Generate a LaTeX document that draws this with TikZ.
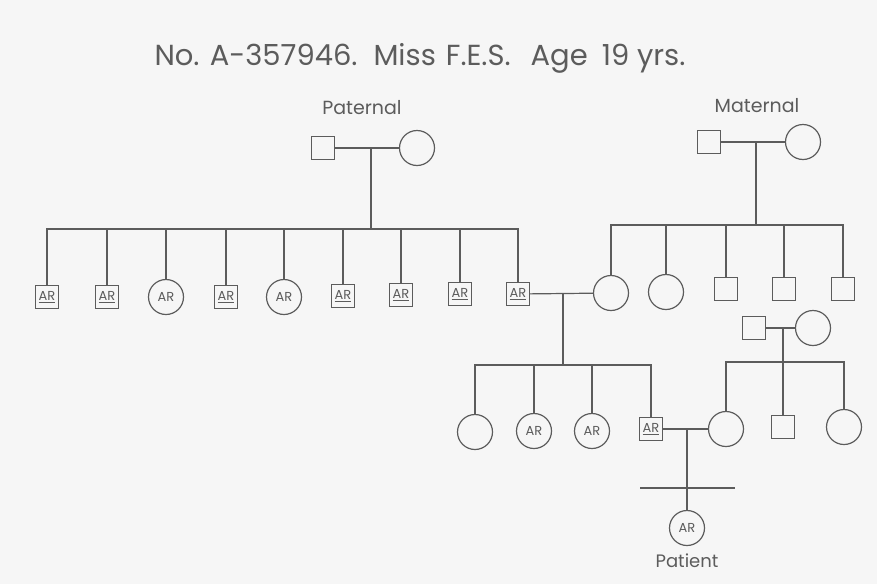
\documentclass[tikz,border=0pt]{standalone}
\usepackage{fontspec}
\setmainfont{Poppins}
\usepackage{tikz}
\usetikzlibrary{calc, positioning}
\definecolor{ink}{HTML}{5c5c5c}
\definecolor{paper}{HTML}{f6f6f6}
\tikzstyle{male}   = [rectangle, draw=ink, line width=1.2pt, minimum size=23pt,
                      inner sep=0pt, fill=paper, text=ink,
                      font=\fontsize{13}{13}\selectfont]
\tikzstyle{female} = [circle, draw=ink, line width=1.2pt, minimum size=35pt,
                      inner sep=0pt, fill=paper, text=ink,
                      font=\fontsize{13}{13}\selectfont]
\tikzstyle{link}   = [draw=ink, line width=1.2pt]
\tikzstyle{caption} = [text=ink, inner sep=0pt]

\begin{document}
\begin{tikzpicture}[x=1pt, y=-1pt]

  %% paper
  \fill[paper] (0,0) rectangle (877,584);
  \useasboundingbox (0,0) rectangle (877,584);

  %% title
  \node[caption, font=\fontsize{29}{32}\selectfont] (title) at (420,58)
    {No. A-357946.\hspace{16pt}Miss\hspace{10pt}F.E.S.\hspace{20pt}Age\hspace{14pt}19 yrs.};

  %% paternal grandparents
  \node[caption, font=\fontsize{19}{22}\selectfont] (plabel) at (362,108) {Paternal};
  \node[male]   (pfa) at (323,148) {};
  \node[female] (pmo) at (417,148) {};
  \coordinate (pdrop) at (371,148);
  \coordinate (psib) at (371,229);
  \draw[link] (pfa) -- (pmo);
  \draw[link] (pdrop) -- (psib);

  %% paternal sibship
  \node[male]   (p1) at (47,297)  {\underline{AR}};
  \node[male]   (p2) at (107,297) {\underline{AR}};
  \node[female] (p3) at (166,297) {AR};
  \node[male]   (p4) at (226,297) {\underline{AR}};
  \node[female] (p5) at (284,297) {AR};
  \node[male]   (p6) at (343,296) {\underline{AR}};
  \node[male]   (p7) at (401,295) {\underline{AR}};
  \node[male]   (p8) at (460,294) {\underline{AR}};
  \node[male]   (p9) at (518,294) {\underline{AR}};
  \draw[link] (p1.north) -- (p1.north |- psib) -- (p9.north |- psib) -- (p9.north);
  \foreach \i in {2,...,8}
    \draw[link] (p\i.north) -- (p\i.north |- psib);

  %% maternal grandparents
  \node[caption, font=\fontsize{19}{22}\selectfont] (mlabel) at (757,106) {Maternal};
  \node[male]   (mfa) at (709,142) {};
  \node[female] (mmo) at (803,142) {};
  \coordinate (mdrop) at (756,142);
  \coordinate (msib) at (756,225);
  \draw[link] (mfa) -- (mmo);
  \draw[link] (mdrop) -- (msib);

  %% maternal sibship
  \node[female] (m1) at (611,293) {};
  \node[female] (m2) at (666,292) {};
  \node[male]   (m3) at (726,289) {};
  \node[male]   (m4) at (784,289) {};
  \node[male]   (m5) at (843,289) {};
  \draw[link] (m1.north) -- (m1.north |- msib) -- (m5.north |- msib) -- (m5.north);
  \foreach \i in {2,3,4}
    \draw[link] (m\i.north) -- (m\i.north |- msib);

  %% parents
  \coordinate (fdrop) at (563,293);
  \coordinate (fsib) at (563,365);
  \draw[link] (p9) -- (m1);
  \draw[link] (fdrop) -- (fsib);

  %% father's children
  \node[female] (c1) at (475,432) {};
  \node[female] (c2) at (534,431) {AR};
  \node[female] (c3) at (592,431) {AR};
  \node[male]   (c4) at (651,429) {\underline{AR}};
  \draw[link] (c1.north) -- (c1.north |- fsib) -- (c4.north |- fsib) -- (c4.north);
  \foreach \i in {2,3}
    \draw[link] (c\i.north) -- (c\i.north |- fsib);

  %% spouse's parents
  \node[male]   (sfa) at (754,328) {};
  \node[female] (smo) at (813,328) {};
  \coordinate (sdrop) at (783,328);
  \coordinate (ssib) at (783,362);
  \draw[link] (sfa) -- (smo);
  \draw[link] (sdrop) -- (ssib);

  %% spouse's sibship
  \node[female] (s1) at (726,429) {};
  \node[male]   (s2) at (783,427) {};
  \node[female] (s3) at (844,427) {};
  \draw[link] (s1.north) -- (s1.north |- ssib) -- (s3.north |- ssib) -- (s3.north);
  \draw[link] (s2.north) -- (s2.north |- ssib);

  %% patient
  \node[female] (pt) at (687,528) {AR};
  \node[caption, font=\fontsize{18}{20}\selectfont] (ptlabel) at (687,561) {Patient};
  \coordinate (tdrop) at (687,429);
  \coordinate (tbarl) at (640,488);
  \coordinate (tbarr) at (735,488);
  \draw[link] (c4) -- (s1);
  \draw[link] (tdrop) -- (pt.north);
  \draw[link] (tbarl) -- (tbarr);

\end{tikzpicture}
\end{document}
